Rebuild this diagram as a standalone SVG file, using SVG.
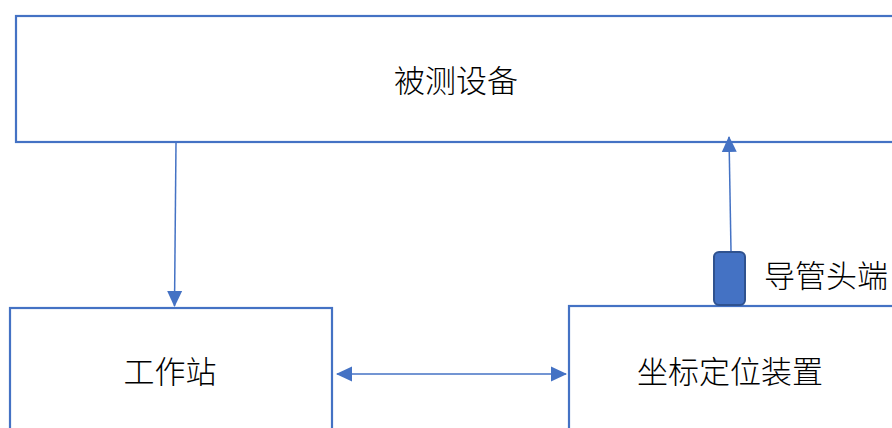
<svg xmlns="http://www.w3.org/2000/svg" width="892" height="428" viewBox="0 0 892 428">
  <style>
    .box { fill: #ffffff; stroke: #4472C4; stroke-width: 2.2; }
    .lbl { font-family: "Noto Sans CJK SC", "Noto Sans", sans-serif; font-size: 31px; font-weight: 300; fill: #000000; text-anchor: middle; }
    .con { stroke: #4472C4; stroke-width: 1.5; fill: none; }
  </style>
  <defs>
    <marker id="arr" viewBox="0 0 16 16" refX="15" refY="8" markerWidth="16" markerHeight="16" markerUnits="userSpaceOnUse" orient="auto-start-reverse">
      <path d="M0,0.5 L16,8 L0,15.5 Z" fill="#4472C4"/>
    </marker>
  </defs>
  <rect width="892" height="428" fill="#ffffff"/>
  <g id="device">
    <rect class="box" x="16" y="16" width="890" height="126"/>
    <text class="lbl" x="456" y="92">被测设备</text>
  </g>
  <g id="workstation">
    <rect class="box" x="10" y="308" width="322" height="140"/>
    <text class="lbl" x="170" y="383">工作站</text>
  </g>
  <g id="locator">
    <rect class="box" x="569" y="306" width="340" height="140"/>
    <text class="lbl" x="730" y="383">坐标定位装置</text>
  </g>
  <g id="catheter-tip">
    <rect x="714" y="252" width="31" height="53" rx="5" ry="5" fill="#4472C4" stroke="#2F528F" stroke-width="2"/>
    <text class="lbl" x="826" y="287">导管头端</text>
  </g>
  <g id="connectors">
    <line class="con" x1="176" y1="143" x2="174.5" y2="306" marker-end="url(#arr)"/>
    <line class="con" x1="731" y1="251" x2="729" y2="137" marker-end="url(#arr)"/>
    <line class="con" x1="337" y1="374" x2="566" y2="374" marker-start="url(#arr)" marker-end="url(#arr)"/>
  </g>
</svg>
